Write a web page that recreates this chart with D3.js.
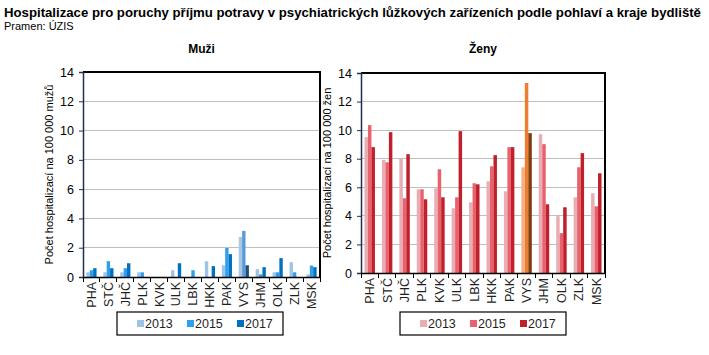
<!DOCTYPE html>
<html><head><meta charset="utf-8">
<script src="https://cdn.jsdelivr.net/npm/d3@7"></script>
<style>body{margin:0;background:#fff}svg{display:block;font-family:"Liberation Sans",Arial,sans-serif}</style>
</head><body><svg id="c" width="709" height="355"></svg>
<script>
const categories = ["PHA","STČ","JHČ","PLK","KVK","ULK","LBK","HKK","PAK","VYS","JHM","OLK","ZLK","MSK"];
const years = ["2013","2015","2017"];
const men2013 = [0.32,0.32,0.32,0.32,0,0.46,0,1.08,0.80,2.74,0.53,0.32,1.01,0.18];
const men2015 = [0.46,1.08,0.60,0.32,0,0,0.46,0,1.98,3.15,0.18,0.32,0.32,0.78];
const men2017 = [0.60,0.60,0.94,0,0,0.94,0,0.74,1.56,0.80,0.67,1.29,0,0.67];
const women2013 = [9.51,7.92,8.01,5.86,5.93,4.53,4.95,6.42,5.72,7.40,9.72,3.98,5.30,5.58];
const women2015 = [10.35,7.75,5.23,5.86,7.26,5.30,6.28,7.47,8.81,13.30,9.02,2.79,7.40,4.67];
const women2017 = [8.81,9.86,8.32,5.16,5.30,9.93,6.21,8.25,8.81,9.79,4.81,4.60,8.39,6.98];
const yTicks = [0,2,4,6,8,10,12,14];
const highlight = "VYS";

const svg = d3.select("#c");
svg.append("text").attr("x",4).attr("y",17).attr("font-size",13.2).attr("font-weight","bold").attr("fill","#000")
  .text("Hospitalizace pro poruchy příjmu potravy v psychiatrických lůžkových zařízeních podle pohlaví a kraje bydliště");
svg.append("text").attr("x",4).attr("y",30).attr("font-size",11).attr("fill","#000").text("Pramen: ÚZIS");

function panel(cfg){
  const {x0,x1,y0,y1,title,ytitle,series,colors,hcolors,legendX} = cfg;
  const x = d3.scaleBand().domain(categories).range([x0,x1]);
  const y = d3.scaleLinear().domain([0,14]).range([y1,y0]);
  const g = svg.append("g");
  // grid
  g.selectAll("line.grid").data(yTicks.slice(1)).join("line")
    .attr("x1",x0).attr("x2",x1).attr("y1",d=>y(d)).attr("y2",d=>y(d))
    .attr("stroke","#BFBFBF").attr("stroke-width",1).attr("shape-rendering","crispEdges");
  // bars
  const bw = x.bandwidth()*0.2;
  const xs = d3.scaleBand().domain(years).range([x.bandwidth()/2-1.5*bw, x.bandwidth()/2+1.5*bw]);
  series.forEach((vals,si)=>{
    g.selectAll(null).data(vals).join("rect")
      .attr("x",(d,i)=>x(categories[i])+xs(years[si]))
      .attr("width",xs.bandwidth())
      .attr("y",d=>y(d)).attr("height",d=>y(0)-y(d))
      .attr("fill",(d,i)=>categories[i]===highlight?hcolors[si]:colors[si]);
  });
  // frame top/right
  g.append("path").attr("d",`M${x0},${y0}H${x1}V${y1}`).attr("fill","none").attr("stroke","#000").attr("stroke-width",1.2).attr("shape-rendering","crispEdges");
  // y axis
  const ya = g.append("g").attr("transform",`translate(${x0},0)`)
    .call(d3.axisLeft(y).tickValues(yTicks).tickSize(4).tickPadding(5));
  ya.select(".domain").attr("stroke","#1F3050").attr("stroke-width",1.5);
  ya.selectAll(".tick line").attr("stroke","#1F3050");
  ya.selectAll("text").attr("font-size",12.5).attr("fill","#000").attr("font-family","Liberation Sans, Arial, sans-serif");
  // x axis
  const xa = g.append("g").attr("transform",`translate(0,${y1})`)
    .call(d3.axisBottom(x).tickSize(0).tickSizeOuter(0));
  xa.select(".domain").attr("stroke","#000").attr("stroke-width",1.5);
  xa.selectAll(".tick text").attr("transform","rotate(-90)").attr("text-anchor","end")
    .attr("x",-5).attr("y",0).attr("dy","0.35em").attr("font-size",12.5).attr("fill","#1F1F1F")
    .attr("font-family","Liberation Sans, Arial, sans-serif");
  const bounds = categories.map(c=>x(c)).concat([x1]);
  g.selectAll(null).data(bounds).join("line")
    .attr("x1",d=>d).attr("x2",d=>d).attr("y1",y1).attr("y2",y1+5)
    .attr("stroke","#000").attr("shape-rendering","crispEdges");
  // titles
  g.append("text").attr("x",(x0+x1)/2).attr("y",53).attr("text-anchor","middle").attr("font-size",12).attr("font-weight","bold").text(title);
  g.append("text").attr("transform",`translate(${x0-30},${(y0+y1)/2}) rotate(-90)`).attr("text-anchor","middle")
    .attr("font-size",11).attr("fill","#000").text(ytitle);
  // legend
  const lg = g.append("g").attr("transform",`translate(${legendX},312)`);
  lg.append("rect").attr("x",0).attr("y",0).attr("width",166).attr("height",23).attr("fill","#fff").attr("stroke","#000").attr("stroke-width",1.2);
  years.forEach((yr,i)=>{
    lg.append("rect").attr("x",20+i*50).attr("y",8).attr("width",7).attr("height",7).attr("fill",colors[i]);
    lg.append("text").attr("x",28+i*50).attr("y",16).attr("font-size",12.5).attr("fill","#1F1F1F").text(yr);
  });
}

panel({x0:83,x1:320,y0:72,y1:277,title:"Muži",ytitle:"Počet hospitalizací na 100 000 mužů",
  series:[men2013,men2015,men2017],colors:["#9DC3E6","#2E9FEF","#0070C0"],hcolors:["#A9C8E4","#5B9BD5","#1F4E79"],legendX:117});
panel({x0:361,x1:605,y0:73,y1:273,title:"Ženy",ytitle:"Počet hospitalizací na 100 000 žen",
  series:[women2013,women2015,women2017],colors:["#E8AEB4","#E8626E","#C0202B"],hcolors:["#F4B183","#ED7D31","#843C0C"],legendX:400});
</script></body></html>
